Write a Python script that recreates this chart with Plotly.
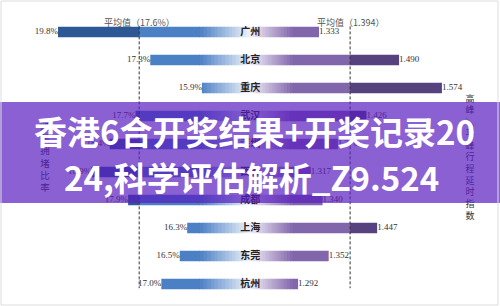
import plotly.graph_objects as go

# ---------------- data ----------------
cities = ["广州", "北京", "重庆", "武汉", "深圳", "西安", "成都", "上海", "东莞", "杭州"]
congestion = [19.8, 17.3, 15.9, 17.7, 18.4, 18.9, 17.9, 16.3, 16.5, 17.0]          # 路段拥堵比率 (%)
congestion_labels = ["19.8%", "17.3%", "15.9%", "17.7%", "18.4%", "18.9%", "17.9%", "16.3%", "16.5%", "17.0%"]
delay = [1.333, 1.490, 1.574, 1.426, 1.370, 1.317, 1.340, 1.447, 1.352, 1.292]    # 高峰/平峰行程延时指数
delay_labels = ["1.333", "1.490", "1.574", "1.426", "1.370", "1.317", "1.340", "1.447", "1.352", "1.292"]
avg_congestion = 17.6
avg_delay = 1.394
avg_congestion_label = "平均值（17.6%）"
avg_delay_label = "平均值（1.394）"
left_title = "路段拥堵比率"
right_title = "高峰/平峰行程延时指数"
banner_line1 = "香港6合开奖结果+开奖记录20"
banner_line2 = "24,科学评估解析_Z9.524"

# ---------------- geometry / style ----------------
W, H = 500, 306
ypos = list(range(len(cities)))
L_RANGE = [21.372, 14.597]     # reversed left axis (value at px 0 .. px 250)
R_RANGE = [1.1977, 1.6879]     # right axis (value at px 250 .. px 500)
L_BASE, L_FADE = L_RANGE[1], 15.952
R_BASE, R_FADE = R_RANGE[0], 1.282
BAR_W = 0.375
N_FADE = 14

L_DARK = (44, 88, 150)
L_MED = (76, 128, 196)
L_WHITE = (240, 244, 250)
R_DARK = (86, 66, 126)
R_MED = (130, 102, 172)
R_WHITE = (242, 240, 247)


def rgb(c):
    return "rgb(%d,%d,%d)" % tuple(int(round(v)) for v in c)


def mix(a, b, t):
    return tuple(a[i] + (b[i] - a[i]) * t for i in range(3))


def build_segments(values, base, fade_end, avg, c_white, c_med, c_dark, eps):
    """Return list of (starts, lengths, color) for each colour band."""
    sign = 1 if fade_end > base else -1
    bands = []
    step = (fade_end - base) / N_FADE
    for k in range(N_FADE):
        a = base + k * step
        b = base + (k + 1) * step
        col = mix(c_white, c_med, (k + 0.5) / N_FADE)
        bands.append((a, b, col))
    bands.append((fade_end, avg, c_med))
    bands.append((avg, base + sign * 1e6, c_dark))
    out = []
    for a, b, col in bands:
        starts, lens = [], []
        for v in values:
            lo, hi = (a, b) if sign > 0 else (b, a)
            vlo, vhi = (base, v) if sign > 0 else (v, base)
            s = max(lo, vlo)
            e = min(hi, vhi)
            if e > s:
                if sign > 0:
                    e = min(e + eps, vhi)
                else:
                    s = max(s - eps, vlo)
                starts.append(s)
                lens.append(e - s)
            else:
                starts.append(0)
                lens.append(0)
        out.append((starts, lens, col))
    return out


fig = go.Figure()

for starts, lens, col in build_segments(congestion, L_BASE, L_FADE, avg_congestion,
                                         L_WHITE, L_MED, L_DARK, 0.02):
    fig.add_trace(go.Bar(orientation="h", y=ypos, x=lens, base=starts, width=BAR_W,
                         marker=dict(color=rgb(col), line=dict(width=0)),
                         xaxis="x", yaxis="y", hoverinfo="skip", showlegend=False))

for starts, lens, col in build_segments(delay, R_BASE, R_FADE, avg_delay,
                                         R_WHITE, R_MED, R_DARK, 0.0012):
    fig.add_trace(go.Bar(orientation="h", y=ypos, x=lens, base=starts, width=BAR_W,
                         marker=dict(color=rgb(col), line=dict(width=0)),
                         xaxis="x2", yaxis="y", hoverinfo="skip", showlegend=False))

LABEL_FONT = dict(family="Liberation Serif", size=9, color="#333333")

# value labels
fig.add_trace(go.Scatter(mode="text", x=congestion, y=ypos, text=congestion_labels,
                         textposition="middle left", textfont=LABEL_FONT,
                         xaxis="x", yaxis="y", cliponaxis=False, hoverinfo="skip", showlegend=False))
fig.add_trace(go.Scatter(mode="text", x=delay, y=ypos, text=delay_labels,
                         textposition="middle right", textfont=LABEL_FONT,
                         xaxis="x2", yaxis="y", cliponaxis=False, hoverinfo="skip", showlegend=False))

# city names at the centre (just inside the right axis range)
fig.add_trace(go.Scatter(mode="text", x=[R_BASE + 0.0003] * len(cities), y=ypos,
                         text=["<b>%s</b>" % c for c in cities], textposition="middle center",
                         textfont=dict(family="Noto Sans CJK SC", size=10, color="#222222"),
                         xaxis="x2", yaxis="y", cliponaxis=False, hoverinfo="skip", showlegend=False))

# vertical axis titles
fig.add_trace(go.Scatter(mode="text", x=[20.152], y=[4.5],
                         text=["<br>".join(list(left_title))], textposition="middle center",
                         textfont=dict(family="Noto Sans CJK SC", size=9.5, color="#333333"),
                         xaxis="x", yaxis="y", cliponaxis=False, hoverinfo="skip", showlegend=False))
fig.add_trace(go.Scatter(mode="text", x=[1.629], y=[4.5],
                         text=["<br>".join(list(right_title.replace("/", "＼")))], textposition="middle center",
                         textfont=dict(family="Noto Sans CJK SC", size=9, color="#333333"),
                         xaxis="x2", yaxis="y", cliponaxis=False, hoverinfo="skip", showlegend=False))

shapes = [
    dict(type="line", xref="x", yref="y", x0=avg_congestion, x1=avg_congestion, y0=-0.2, y1=9.15,
         line=dict(color="#333333", width=1, dash="3px,2px"), layer="above"),
    dict(type="line", xref="x2", yref="y", x0=avg_delay, x1=avg_delay, y0=-0.2, y1=9.15,
         line=dict(color="#333333", width=1, dash="3px,2px"), layer="above"),
    dict(type="rect", xref="paper", yref="paper", x0=0, x1=1, y0=1 - 203 / H, y1=1 - 102 / H,
         fillcolor="rgb(88,28,191)", opacity=0.7, line=dict(width=0), layer="above"),
    dict(type="rect", xref="paper", yref="paper", x0=1 / W, x1=498 / W, y0=1 / H, y1=1 - 1 / H,
         line=dict(color="#dddddd", width=1), fillcolor="rgba(0,0,0,0)", layer="above"),
]

TITLE_FONT = dict(family="Noto Sans CJK SC", size=33, color="white")
annotations = [
    dict(text=avg_congestion_label, xref="x", yref="paper", x=avg_congestion, y=1 - 14 / H,
         showarrow=False, font=dict(family="Noto Sans CJK SC", size=9, color="#555555")),
    dict(text=avg_delay_label, xref="x2", yref="paper", x=avg_delay, y=1 - 14 / H,
         showarrow=False, font=dict(family="Noto Sans CJK SC", size=9, color="#555555")),
    dict(text="<b>%s</b>" % banner_line1, xref="paper", yref="paper", x=0.508, y=1 - 131 / H,
         showarrow=False, font=TITLE_FONT),
    dict(text="<b>%s</b>" % banner_line2, xref="paper", yref="paper", x=0.502, y=1 - 177 / H,
         showarrow=False, font=TITLE_FONT),
]

fig.update_layout(
    width=W, height=H, margin=dict(l=0, r=0, t=0, b=0),
    paper_bgcolor="white", plot_bgcolor="white",
    barmode="overlay", showlegend=False,
    xaxis=dict(domain=[0, 0.5], range=L_RANGE, visible=False, fixedrange=True),
    xaxis2=dict(domain=[0.5, 1], range=R_RANGE, visible=False, fixedrange=True, anchor="y"),
    yaxis=dict(domain=[1 - 298 / H, 1 - 18 / H], range=[9.5, -0.5], visible=False, fixedrange=True),
    shapes=shapes, annotations=annotations,
)

fig.write_html("out.html")
